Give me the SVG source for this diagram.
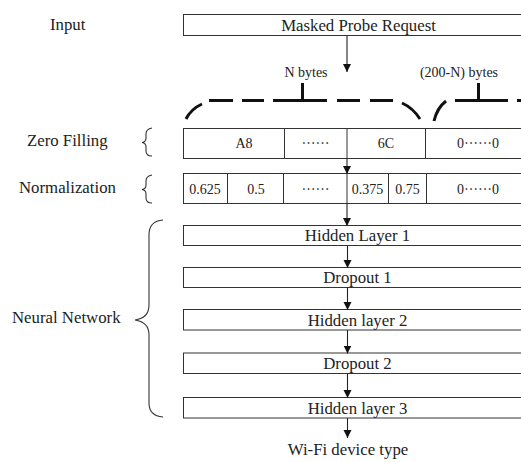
<svg xmlns="http://www.w3.org/2000/svg" width="521" height="462" viewBox="0 0 521 462">
  <style>
    .box { fill: #fff; stroke: #333; stroke-width: 1; }
    .div { stroke: #333; stroke-width: 1; fill: none; }
    .lbl { font-family: 'Liberation Serif', 'Times New Roman', serif; font-size: 16.8px; fill: #222; }
    .cell { font-family: 'Liberation Serif', 'Times New Roman', serif; font-size: 14px; fill: #222; text-anchor: middle; }
    .mid { text-anchor: middle; }
    .dots { font-family: 'Noto Sans CJK SC', sans-serif; }
    .brace { fill: none; stroke: #333; stroke-width: 1.1; }
    .dash { fill: none; stroke: #111; stroke-width: 3; }
    .conn { stroke: #222; stroke-width: 1.1; fill: none; }
  </style>
  <defs>
    <marker id="arrow" markerUnits="userSpaceOnUse" markerWidth="9" markerHeight="9" refX="8" refY="4" orient="auto">
      <path d="M0,0 L8,4 L0,8 Z" fill="#111"/>
    </marker>
  </defs>

  <!-- side labels -->
  <g id="side-labels">
    <text class="lbl" x="50" y="30">Input</text>
    <text class="lbl" x="27" y="146">Zero Filling</text>
    <text class="lbl" x="19" y="193">Normalization</text>
    <text class="lbl" x="12" y="323">Neural Network</text>
  </g>

  <!-- braces -->
  <g id="braces">
    <path class="brace" d="M152,128 Q146,129 146,134 L146,138 Q146,142 142,142.5 Q146,143 146,147 L146,151 Q146,156 152,156"/>
    <path class="brace" d="M152,175 Q146,176 146,181 L146,185 Q146,189 142,189.5 Q146,190 146,194 L146,198 Q146,203 152,203"/>
    <path class="brace" d="M163,220 Q149,221 149,235 V305 Q149,318 135,320 Q149,322 149,335 V403 Q149,416 163,417"/>
  </g>

  <!-- dashed byte braces -->
  <g id="byte-braces">
    <path class="dash" d="M186,119 Q191,109 202,104 M209,100.5 H233 M242,100.5 H264 M273,100.5 H327 M337,100.5 H360 M370,100.5 H393 M402,103 Q413,108 420,119"/>
    <path class="dash" d="M302.5,83 V100"/>
    <text class="cell" x="306" y="77">N bytes</text>
    <path class="dash" d="M434,121 Q437,108 446,101 M455,100.5 H508 M517,100.5 H530"/>
    <path class="dash" d="M478.5,83 V100"/>
    <text class="cell" x="459" y="77">(200-N) bytes</text>
  </g>

  <g id="input">
    <rect class="box" x="183.5" y="14.5" width="350" height="21"/>
    <text class="lbl mid" x="358.5" y="31">Masked Probe Request</text>
  </g>

  <g id="zero-filling">
    <rect class="box" x="183.5" y="128.5" width="350" height="30"/>
    <path class="div" d="M284.5,128.5 V158.5 M347,128.5 V158.5 M425.5,128.5 V158.5"/>
    <text class="cell" x="244" y="148">A8</text>
    <text class="cell dots" x="315.5" y="148">……</text>
    <text class="cell" x="386" y="148">6C</text>
    <text class="cell" x="478" y="148">0<tspan class="dots">……</tspan>0</text>
  </g>

  <g id="normalization">
    <rect class="box" x="183.5" y="173.5" width="350" height="30"/>
    <path class="div" d="M227.5,173.5 V203.5 M283.5,173.5 V203.5 M347,173.5 V203.5 M388.5,173.5 V203.5 M426.5,173.5 V203.5"/>
    <text class="cell" x="205" y="194">0.625</text>
    <text class="cell" x="256" y="194">0.5</text>
    <text class="cell dots" x="315.5" y="194">……</text>
    <text class="cell" x="367.5" y="194">0.375</text>
    <text class="cell" x="407.5" y="194">0.75</text>
    <text class="cell" x="478" y="194">0<tspan class="dots">……</tspan>0</text>
  </g>

  <g id="hidden1">
    <rect class="box" x="183.5" y="225.5" width="350" height="20"/>
    <text class="lbl mid" x="357.5" y="241">Hidden Layer 1</text>
  </g>
  <g id="dropout1">
    <rect class="box" x="183.5" y="267.5" width="350" height="20"/>
    <text class="lbl mid" x="357.5" y="283">Dropout 1</text>
  </g>
  <g id="hidden2">
    <rect class="box" x="183.5" y="309.5" width="350" height="20.5"/>
    <text class="lbl mid" x="357.5" y="325.5">Hidden layer 2</text>
  </g>
  <g id="dropout2">
    <rect class="box" x="183.5" y="353" width="350" height="20.5"/>
    <text class="lbl mid" x="357.5" y="369">Dropout 2</text>
  </g>
  <g id="hidden3">
    <rect class="box" x="183.5" y="397.5" width="350" height="20.5"/>
    <text class="lbl mid" x="357.5" y="413.5">Hidden layer 3</text>
  </g>
  <g id="output">
    <text class="lbl mid" x="348" y="455">Wi-Fi device type</text>
  </g>

  <!-- connectors -->
  <g id="connectors">
    <line class="conn" x1="347" y1="35.5" x2="347" y2="72" marker-end="url(#arrow)"/>
    <line class="conn" x1="347" y1="158.5" x2="347" y2="174" marker-end="url(#arrow)"/>
    <line class="conn" x1="347" y1="203.5" x2="347" y2="226" marker-end="url(#arrow)"/>
    <line class="conn" x1="347.5" y1="245.5" x2="347.5" y2="268" marker-end="url(#arrow)"/>
    <line class="conn" x1="347.5" y1="287.5" x2="347.5" y2="310" marker-end="url(#arrow)"/>
    <line class="conn" x1="347.5" y1="330" x2="347.5" y2="353.5" marker-end="url(#arrow)"/>
    <line class="conn" x1="347.5" y1="373.5" x2="347.5" y2="398" marker-end="url(#arrow)"/>
    <line class="conn" x1="347.5" y1="418" x2="347.5" y2="438" marker-end="url(#arrow)"/>
  </g>
</svg>
